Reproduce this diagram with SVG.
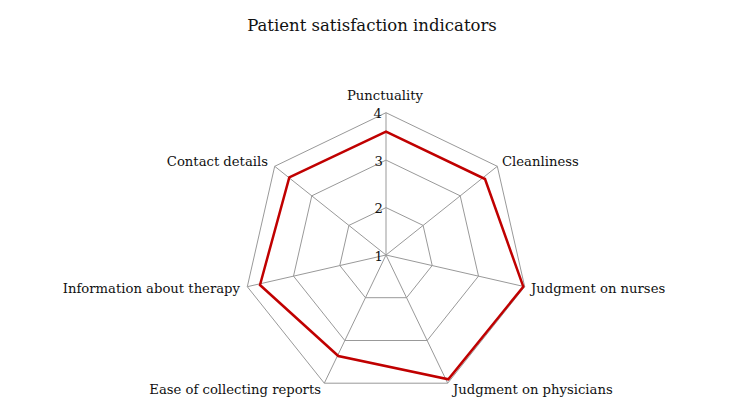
<svg xmlns="http://www.w3.org/2000/svg" width="730" height="417" viewBox="0 0 730 417">
<style>
text{font-family:"DejaVu Serif",serif;font-size:13.2px;fill:#111}
.g{fill:none;stroke:#999;stroke-width:1}
.d{fill:none;stroke:#c00000;stroke-width:2.5;stroke-linejoin:miter}
</style>
<rect width="730" height="417" fill="#fff"/>
<text x="372" y="31" text-anchor="middle" style="font-size:16.5px">Patient satisfaction  indicators</text>
<g id="grid">
<polygon class="g" points="386,112.7 497.3,166.3 524.7,286.7 447.7,383.2 324.3,383.2 247.3,286.7 274.7,166.3"/>
<polygon class="g" points="386,160.1 460.2,195.8 478.5,276.1 427.2,340.5 344.8,340.5 293.5,276.1 311.8,195.8"/>
<polygon class="g" points="386,207.6 423.1,225.4 432.2,265.5 406.6,297.7 365.4,297.7 339.8,265.5 348.9,225.4"/>
</g>
<g id="connectors">
<path class="g" d="M386,255L386,112.7M386,255L497.3,166.3M386,255L524.7,286.7M386,255L447.7,383.2M386,255L324.3,383.2M386,255L247.3,286.7M386,255L274.7,166.3"/>
</g>
<g id="series"><polygon class="d" points="386,131.7 485,179 523.3,286.7 448.3,379.3 338.3,356 260,285 289.3,177.3"/></g>
<g id="scale" style="font-size:15px">
<text x="382" y="118" text-anchor="end">4</text>
<text x="383" y="166" text-anchor="end">3</text>
<text x="383" y="213" text-anchor="end">2</text>
<text x="383" y="261" text-anchor="end">1</text>
</g>
<g id="labels">
<text id="punctuality" x="385" y="100" text-anchor="middle">Punctuality</text>
<text id="cleanliness" x="502" y="166">Cleanliness</text>
<text id="nurses" x="531" y="293">Judgment on nurses</text>
<text id="physicians" x="453" y="394">Judgment on physicians</text>
<text id="ease" x="321" y="394" text-anchor="end">Ease of collecting reports</text>
<text id="info" x="240" y="293" text-anchor="end">Information about therapy</text>
<text id="contact" x="268" y="166" text-anchor="end">Contact details</text>
</g>
</svg>
